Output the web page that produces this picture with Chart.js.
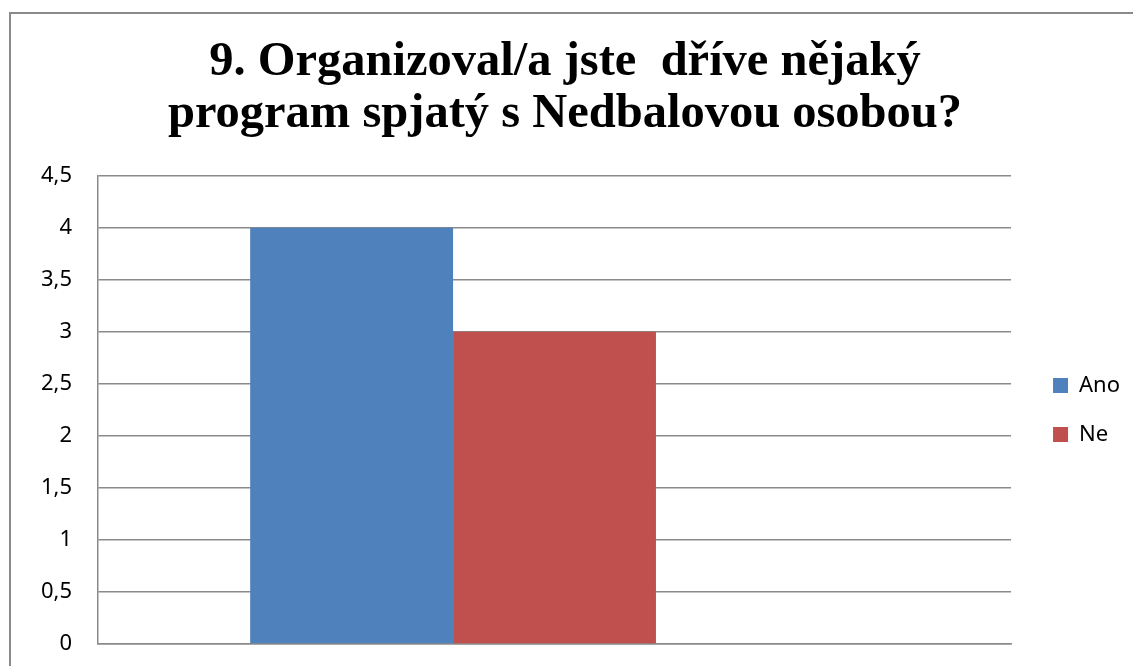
<!DOCTYPE html>
<html>
<head>
<meta charset="utf-8">
<script src="https://cdn.jsdelivr.net/npm/chart.js@4"></script>
<style>
  html, body { margin: 0; padding: 0; background: #fff; overflow: hidden; }
  #frame { position: absolute; left: 9px; top: 12px; width: 1200px; height: 720px; border: 2px solid #8a8a8a; }
  #c { position: absolute; left: 0; top: 0; }
</style>
</head>
<body>
<div id="frame"></div>
<canvas id="c" width="1133" height="666"></canvas>
<script>

// ==========================
// Data
// ==========================

const categories = [""];
const anoValues = [4];
const neValues = [3];
const blankValues = [null];   // empty third series in the original sheet

const yTicks = [0, 0.5, 1, 1.5, 2, 2.5, 3, 3.5, 4, 4.5];

const titleLines = [
    "9. Organizoval/a jste  dříve nějaký",
    "program spjatý s Nedbalovou osobou?"
];

const gridColor = "#8a8a8a";

document.addEventListener("DOMContentLoaded", () => {

    const ctx = document.getElementById("c");

    new Chart(ctx, {

        type: "bar",

        data: {
            labels: categories,
            datasets: [
                { label: "Ano", data: anoValues, backgroundColor: "#4F81BD" },
                { label: "Ne", data: neValues, backgroundColor: "#C0504D" },
                { label: "", data: blankValues, backgroundColor: "#9BBB59" }
            ]
        },

        options: {
            responsive: false,
            animation: false,
            layout: { autoPadding: false, padding: { left: 0, right: 3, top: 0, bottom: 0 } },
            datasets: {
                bar: { categoryPercentage: 3 / 4.5, barPercentage: 1 }
            },
            plugins: {
                title: {
                    display: true,
                    text: titleLines,
                    color: "#000",
                    font: { family: "'Liberation Serif', serif", size: 48.5, weight: "bold", lineHeight: 1.08 },
                    padding: { top: 36, bottom: 35 }
                },
                legend: {
                    position: "right",
                    fullSize: false,
                    labels: {
                        color: "#000",
                        font: { family: "'Noto Sans', sans-serif", size: 22 },
                        boxWidth: 15,
                        boxHeight: 15,
                        padding: 27,
                        filter: item => item.text !== ""
                    }
                },
                tooltip: { enabled: false }
            },
            scales: {
                x: {
                    ticks: { display: false },
                    grid: { display: false },
                    border: { display: true, color: gridColor, width: 1.5 },
                    afterFit: scale => { scale.height = 22; }
                },
                y: {
                    min: 0,
                    max: 4.5,
                    afterBuildTicks: scale => { scale.ticks = yTicks.map(v => ({ value: v })); },
                    ticks: {
                        color: "#000",
                        padding: 2,
                        font: { family: "'Noto Sans', sans-serif", size: 22 },
                        callback: v => String(v).replace(".", ",")
                    },
                    grid: { color: gridColor, lineWidth: 1.5, drawTicks: true, tickLength: 24, tickColor: "transparent" },
                    border: { display: true, color: gridColor, width: 1.5 },
                    afterFit: scale => { scale.width = 98; }
                },
                gap: {
                    position: "right",
                    display: true,
                    ticks: { display: false },
                    grid: { display: false },
                    border: { display: false },
                    afterFit: scale => { scale.width = 15; }
                }
            }
        }

    });

});
</script>
</body>
</html>
